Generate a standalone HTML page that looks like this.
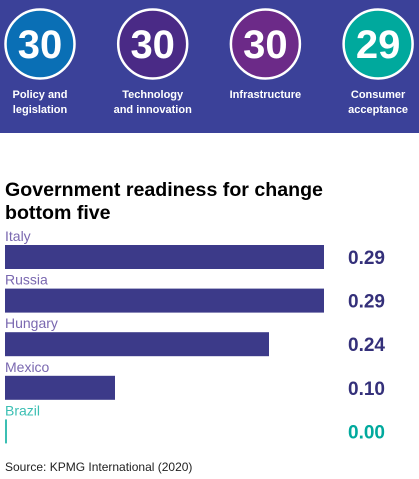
<!DOCTYPE html>
<html><head><meta charset="utf-8"><style>
html,body{margin:0;padding:0;background:#fff;width:419px;height:479px;overflow:hidden;font-family:"Liberation Sans",sans-serif}
</style></head><body>
<svg width="419" height="479" xmlns="http://www.w3.org/2000/svg">
<rect x="0" y="0" width="419" height="133" fill="#3b4199"/>
<g id="kpis"></g>
<text x="5" y="196" font-size="19.6" font-weight="bold" fill="#000">Government readiness for change</text>
<text x="5" y="219" font-size="19.6" font-weight="bold" fill="#000">bottom five</text>
<g id="bars"></g>
<text x="5" y="471" font-size="12" fill="#222">Source: KPMG International (2020)</text>
</svg>
<script>
const kpiValues = ["30","30","30","29"];
const kpiLabels = [["Policy and","legislation"],["Technology","and innovation"],["Infrastructure"],["Consumer","acceptance"]];
const kpiColors = ["#0a6fb5","#4a2a86","#6c2a88","#00a99d"];
const categories = ["Italy","Russia","Hungary","Mexico","Brazil"];
const values = [0.29,0.29,0.24,0.10,0.00];
const valueLabels = ["0.29","0.29","0.24","0.10","0.00"];

const NS="http://www.w3.org/2000/svg";
function mk(tag,attrs,parent){const e=document.createElementNS(NS,tag);for(const k in attrs)e.setAttribute(k,attrs[k]);parent.appendChild(e);return e;}
const kg=document.getElementById('kpis');
kpiValues.forEach((v,i)=>{
  const cx=40+i*112.7, cy=44;
  const c=mk('circle',{cx:cx,cy:cy,r:34.5,fill:kpiColors[i],stroke:'#fff','stroke-width':2.5},kg);
  
  
  const t=mk('text',{x:cx,y:cy+14,'text-anchor':'middle','font-size':40,'font-weight':'bold',fill:'#fff'},kg);
  t.textContent=v;
  
  
  kpiLabels[i].forEach((l,j)=>{
    const lt=mk('text',{x:cx,y:98+j*15,'text-anchor':'middle','font-size':11,'font-weight':'bold',fill:'#fff'},kg);
    lt.textContent=l;
    
    
  });
});
const bg=document.getElementById('bars');
const x0=5, scale=319/0.29;
const xs=v=>v*scale;
categories.forEach((c,i)=>{
  const y=245+i*43.6;
  const teal=values[i]===0;
  const lab=mk('text',{x:5,y:y-4,'font-size':14,fill:teal?'#3bbfb3':'#7a68b0'},bg);
  lab.textContent=c;
  
  
  const w=Math.max(xs(values[i]),2);
  const r=mk('rect',{x:x0,y:y,width:w,height:24,fill:teal?'#3bbfb3':'#3c3a89'},bg);
  
  
  const vt=mk('text',{x:348,y:y+19,'font-size':19,'font-weight':'bold',fill:teal?'#00a99d':'#34307a'},bg);
  vt.textContent=valueLabels[i];
  
  
});
</script>
</body></html>
